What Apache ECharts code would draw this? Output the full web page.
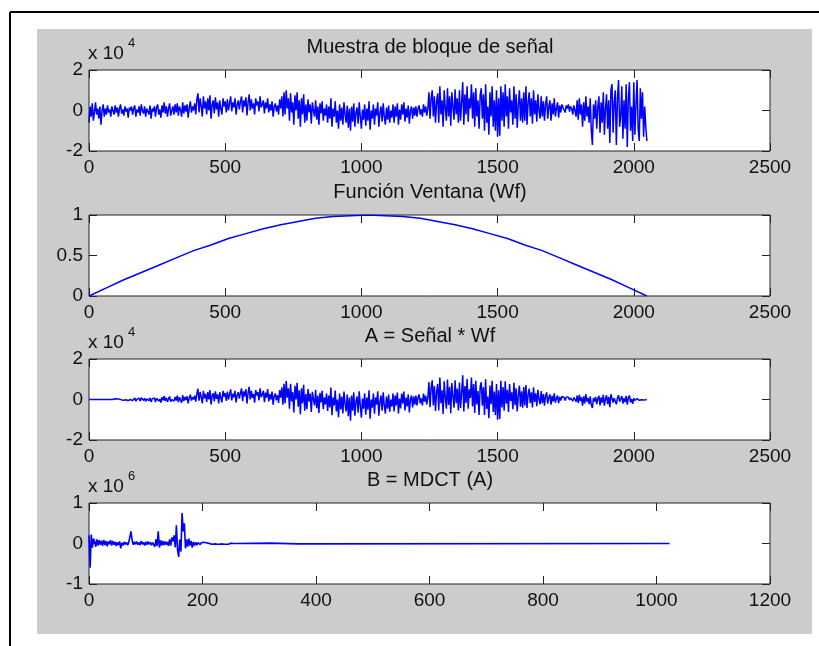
<!DOCTYPE html>
<html>
<head>
<meta charset="utf-8">
<script src="https://cdn.jsdelivr.net/npm/echarts@6/dist/echarts.min.js"></script>
<style>
html, body { margin: 0; padding: 0; background: #fff; }
#chart { width: 819px; height: 646px; }
</style>
</head>
<body>
<div id="chart"></div>
<script>
// panel titles
var titles = ['Muestra de bloque de señal', 'Función Ventana (Wf)', 'A = Señal * Wf', 'B = MDCT (A)'];

// signal block, x 10^4, one value every 4 samples (0..2048)
var signalStep = 4;
var signalBlock = [
  -0.6, 0.2, -0.3, 0.35, -0.5, -0.1, 0.4, -0.2, 0.1, -0.4, 0.2, -0.7, 0.0, 0.3, -0.3, 0.1, -0.2, 0.25, -0.1, 0.05,
  -0.3, 0.2, 0.0, -0.2, 0.25, -0.1, 0.15, -0.3, 0.1, 0.3, -0.15, 0.05, -0.25, 0.2, -0.05, 0.1, -0.35, 0.15, 0.0, 0.2,
  -0.2, 0.1, 0.25, -0.3, 0.05, -0.1, 0.2, -0.25, 0.3, 0.0, -0.15, 0.2, -0.3, 0.1, 0.05, -0.2, 0.25, -0.4, 0.1, -0.05,
  0.2, -0.3, 0.15, 0.3, -0.2, 0.05, -0.35, 0.25, -0.1, 0.4, -0.15, 0.2, -0.3, 0.1, 0.35, -0.25, 0.0, 0.2, -0.2, 0.3,
  -0.1, 0.35, -0.25, 0.2, 0.05, -0.3, 0.4, -0.15, 0.25, -0.05, 0.3, -0.35, 0.15, 0.45, -0.1, 0.2, 0.0, 0.35, -0.2, 0.55,
  0.85, -0.1, 0.6, 0.2, -0.3, 0.7, 0.1, 0.45, -0.2, 0.6, 0.0, 0.75, -0.4, 0.3, 0.5, -0.15, 0.65, 0.05, 0.4, -0.3,
  0.5, 0.1, -0.2, 0.6, 0.2, 0.45, -0.1, 0.55, 0.0, 0.35, 0.7, -0.05, 0.4, 0.15, 0.6, -0.2, 0.3, 0.5, 0.05, 0.45,
  0.7, -0.1, 0.5, 0.2, 0.65, -0.25, 0.4, 0.8, 0.0, 0.55, 0.1, 0.35, -0.2, 0.6, 0.25, 0.45, -0.05, 0.7, 0.15, 0.3,
  0.5, -0.15, 0.4, 0.1, 0.6, -0.1, 0.3, 0.0, 0.45, -0.3, 0.2, 0.35, -0.05, 0.25, -0.2, 0.55, 0.1, 0.7, -0.3, 0.9,
  -0.2, 1.0, 0.1, 0.6, -0.5, 0.85, -0.1, 0.4, -0.7, 0.75, 0.0, 0.9, -0.4, 0.5, -0.8, 0.6, -0.2, 0.8, -0.6, 0.3,
  -0.5, 0.55, -0.1, 0.3, -0.65, 0.4, 0.0, -0.3, 0.5, -0.45, 0.2, -0.7, 0.35, -0.15, 0.45, -0.5, 0.1, -0.25, 0.3, -0.6,
  0.2, -0.4, 0.6, -0.8, 0.1, -0.3, 0.45, -0.6, 0.0, -0.9, 0.3, -0.5, 0.15, -0.7, 0.4, -0.2, -0.6, 0.25, -0.85, 0.1,
  -1.0, 0.2, -0.55, 0.35, -0.8, -0.1, 0.15, -0.65, 0.4, -0.3, -0.9, 0.05, -0.45, 0.3, -0.75, 0.1, -0.5, 0.45, -0.95, 0.0,
  -0.4, 0.3, -0.7, 0.1, -0.25, 0.4, -0.8, -0.1, 0.2, -0.55, 0.35, -0.3, -0.7, 0.15, -0.45, 0.25, -0.6, 0.0, -0.35, 0.3,
  -0.6, 0.2, -0.3, 0.35, -0.7, 0.05, -0.45, 0.3, -0.2, 0.4, -0.55, 0.1, -0.35, 0.25, -0.65, 0.0, 0.2, -0.4, 0.15, -0.25,
  0.2, -0.3, 0.1, 0.25, -0.2, 0.05, -0.3, 0.3, -0.1, 0.2, -0.25, 0.1, 0.9, -0.4, 0.6, 1.0, -0.3, 0.7, -0.6, 0.4,
  0.85, -0.6, 1.2, -0.2, 0.5, -0.8, 1.0, 0.1, -0.5, 1.1, -0.3, 0.7, -0.75, 0.9, 0.2, -0.45, 1.05, -0.2, 0.6, -0.6,
  1.0, -0.5, 0.4, 1.4, -0.7, 0.8, -0.2, 1.2, -0.55, 0.6, 0.1, 1.3, -0.4, 0.9, -0.8, 1.1, -0.3, 0.5, -0.9, 0.75,
  1.1, -0.4, 0.8, -1.0, 1.3, -0.6, 0.2, -1.2, 0.9, -0.3, 1.2, -0.8, 0.5, -1.0, 1.0, -1.3, 0.6, -1.25, 1.2, -0.5,
  0.9, -0.8, 1.3, -0.3, 0.7, -0.9, 1.1, -0.1, 0.5, -0.7, 1.2, -0.4, 0.8, -0.85, 0.3, 1.0, -0.5, 0.6, -0.6, 0.9,
  -0.5, 1.2, -0.7, 0.4, 0.9, -0.3, 0.6, -0.65, 1.0, -0.2, 0.5, -0.55, 0.8, 0.0, -0.4, 0.7, -0.3, 0.45, -0.5, 0.3,
  0.7, -0.4, 0.2, 0.5, -0.5, 0.35, -0.2, 0.6, -0.3, 0.1, 0.4, -0.35, 0.25, -0.1, 0.3, 0.15, 0.2, -0.1, 0.25, 0.1,
  0.3, -0.05, 0.2, 0.1, -0.2, 0.25, 0.0, -0.3, 0.5, -0.45, 0.6, -0.2, 0.3, -0.8, 0.4, -0.5, 0.7, -0.3, 0.2, -0.6,
  0.6, -1.0, -1.7, 0.3, -0.4, 0.5, -0.9, 0.2, 0.7, -1.1, 0.4, -0.6, 0.9, -1.2, 0.1, 0.8, -0.9, 0.5, -1.6, 1.0,
  1.3, -1.1, 0.4, 1.0, -1.7, 0.6, 1.5, -0.8, -0.3, 1.2, -1.4, 0.5, -0.9, 1.3, -1.8, 0.6, 1.4, -1.0, 0.2, -1.5,
  1.4, -1.2, 0.3, 1.5, -0.9, -1.5, 1.1, -0.4, 0.9, -1.3, 0.2, -0.8, -1.5
];

// window Wf, one value every 64 samples (0..2048)
var windowStep = 64;
var windowWf = [
  0.00, 0.10, 0.20, 0.29, 0.38, 0.47, 0.56, 0.63, 0.71, 0.77, 0.83, 0.88, 0.92, 0.96, 0.98, 0.99, 1.00,
  0.99, 0.98, 0.96, 0.92, 0.88, 0.83, 0.77, 0.71, 0.63, 0.56, 0.47, 0.38, 0.29, 0.20, 0.10, 0.00
];

// A = signal * Wf, x 10^4, every 4 samples
var signalA = [
  0, 0, 0, 0, 0, 0, 0, 0, 0, 0, 0, 0, 0, 0, 0, 0, 0, 0, 0, 0,
  0, 0, 0, -0.03, 0.04, -0.02, 0.02, -0.05, 0.02, 0.05, -0.02, 0.01, -0.04, 0.03, -0.01, 0.02, -0.06, 0.02, 0, 0.03,
  -0.06, 0.03, 0.08, -0.09, 0.02, -0.03, 0.06, -0.08, 0.09, 0, -0.05, 0.06, -0.09, 0.03, 0.02, -0.06, 0.08, -0.12, 0.03, -0.02,
  0.08, -0.13, 0.06, 0.13, -0.08, 0.02, -0.15, 0.11, -0.04, 0.17, -0.06, 0.08, -0.13, 0.04, 0.15, -0.11, 0, 0.08, -0.08, 0.13,
  -0.05, 0.19, -0.13, 0.11, 0.03, -0.16, 0.21, -0.08, 0.13, -0.03, 0.16, -0.19, 0.08, 0.24, -0.05, 0.11, 0, 0.19, -0.11, 0.29,
  0.53, -0.06, 0.37, 0.12, -0.19, 0.43, 0.06, 0.28, -0.12, 0.37, 0, 0.47, -0.25, 0.19, 0.31, -0.09, 0.4, 0.03, 0.25, -0.19,
  0.36, 0.07, -0.14, 0.43, 0.14, 0.32, -0.07, 0.39, 0, 0.25, 0.5, -0.04, 0.28, 0.11, 0.43, -0.14, 0.21, 0.36, 0.04, 0.32,
  0.55, -0.08, 0.4, 0.16, 0.51, -0.2, 0.32, 0.63, 0, 0.43, 0.08, 0.28, -0.16, 0.47, 0.2, 0.36, -0.04, 0.55, 0.12, 0.24,
  0.43, -0.13, 0.34, 0.09, 0.52, -0.09, 0.26, 0, 0.39, -0.26, 0.17, 0.3, -0.04, 0.22, -0.17, 0.47, 0.09, 0.6, -0.26, 0.77,
  -0.18, 0.91, 0.09, 0.55, -0.46, 0.77, -0.09, 0.36, -0.64, 0.68, 0, 0.82, -0.36, 0.46, -0.73, 0.55, -0.18, 0.73, -0.55, 0.27,
  -0.48, 0.52, -0.1, 0.29, -0.62, 0.38, 0, -0.29, 0.48, -0.43, 0.19, -0.67, 0.33, -0.14, 0.43, -0.48, 0.1, -0.24, 0.29, -0.57,
  0.2, -0.39, 0.59, -0.78, 0.1, -0.29, 0.44, -0.59, 0, -0.88, 0.29, -0.49, 0.15, -0.69, 0.39, -0.2, -0.59, 0.25, -0.83, 0.1,
  -1.05, 0.2, -0.55, 0.35, -0.8, -0.1, 0.15, -0.65, 0.4, -0.3, -0.9, 0.05, -0.45, 0.3, -0.75, 0.1, -0.5, 0.45, -0.95, 0,
  -0.4, 0.3, -0.7, 0.1, -0.25, 0.4, -0.8, -0.1, 0.2, -0.55, 0.35, -0.3, -0.7, 0.15, -0.45, 0.25, -0.6, 0, -0.35, 0.3,
  -0.59, 0.2, -0.29, 0.34, -0.69, 0.05, -0.44, 0.29, -0.2, 0.39, -0.54, 0.1, -0.34, 0.25, -0.64, 0, 0.2, -0.39, 0.15, -0.25,
  0.19, -0.29, 0.1, 0.24, -0.19, 0.05, -0.29, 0.29, -0.1, 0.19, -0.24, 0.1, 0.86, -0.38, 0.57, 0.95, -0.29, 0.67, -0.57, 0.38,
  0.77, -0.54, 1.08, -0.18, 0.45, -0.72, 0.9, 0.09, -0.45, 0.99, -0.27, 0.63, -0.68, 0.81, 0.18, -0.41, 0.95, -0.18, 0.54, -0.54,
  0.84, -0.42, 0.34, 1.2, -0.59, 0.67, -0.17, 1.01, -0.46, 0.5, 0.08, 1.09, -0.34, 0.76, -0.67, 0.92, -0.25, 0.42, -0.76, 0.63,
  0.85, -0.31, 0.62, -0.77, 1.0, -0.46, 0.15, -0.92, 0.69, -0.23, 0.92, -0.62, 0.39, -0.77, 0.77, -1.0, 0.46, -0.96, 0.92, -0.39,
  0.62, -0.55, 0.9, -0.21, 0.48, -0.62, 0.76, -0.07, 0.35, -0.48, 0.83, -0.28, 0.55, -0.59, 0.21, 0.69, -0.35, 0.41, -0.41, 0.62,
  -0.3, 0.72, -0.42, 0.24, 0.54, -0.18, 0.36, -0.39, 0.6, -0.12, 0.3, -0.33, 0.48, 0, -0.24, 0.42, -0.18, 0.27, -0.3, 0.18,
  0.35, -0.2, 0.1, 0.25, -0.25, 0.18, -0.1, 0.3, -0.15, 0.05, 0.2, -0.18, 0.13, -0.05, 0.15, 0.08, 0.1, -0.05, 0.13, 0.05,
  0.11, -0.02, 0.08, 0.04, -0.08, 0.1, 0, -0.11, 0.19, -0.17, 0.23, -0.08, 0.11, -0.3, 0.15, -0.19, 0.27, -0.11, 0.08, -0.23,
  0.16, -0.26, -0.42, 0.08, -0.1, 0.13, -0.23, 0.05, 0.18, -0.29, 0.1, -0.16, 0.23, -0.31, 0.03, 0.21, -0.23, 0.13, -0.38, 0.26,
  0.18, -0.15, 0.06, 0.14, -0.24, 0.08, 0.21, -0.11, -0.04, 0.17, -0.2, 0.07, -0.13, 0.18, -0.25, 0.08, 0.2, -0.14, 0.03, -0.21,
  0.06, -0.05, 0.01, 0.05, -0.03, -0.04, 0.03, -0.01, 0.02, -0.02, 0, -0.01, 0
];

// B = MDCT(A), x 10^6, every 2 bins for the first 260 bins
var mdctStep = 2;
var mdctHead = [
  0.2, -0.6, 0.22, -0.1, 0.12, 0.05, -0.08, 0.1, -0.05, 0.08,
  -0.03, 0.07, -0.06, 0.09, -0.04, 0.06, -0.07, 0.05, -0.02, 0.08,
  -0.05, 0.06, -0.03, 0.04, -0.06, 0.03, -0.04, 0.05, -0.12, 0.02,
  -0.05, 0.04, -0.02, 0.03, -0.04, 0.02, 0.05, 0.3, 0.08, -0.03,
  0.04, -0.02, 0.05, -0.03, 0.02, -0.04, 0.06, -0.02, 0.03, -0.05,
  0.04, -0.03, 0.05, -0.02, 0.03, -0.04, 0.02, 0.05, -0.08, 0.1,
  -0.06, 0.3, -0.1, 0.08, -0.05, 0.06, -0.04, 0.05, -0.03, 0.04,
  -0.06, 0.1, -0.05, 0.15, 0.05, 0.2, -0.1, 0.45, -0.15, -0.33,
  0.1, -0.2, 0.75, 0.3, 0.5, -0.12, 0.1, -0.08, 0.12, -0.05,
  0.06, -0.1, 0.04, -0.05, 0.03, -0.04, 0.02, 0.05, -0.03, 0.02,
  -0.02, 0.03, -0.01, 0.02, -0.02, 0.01, 0.02, -0.01, 0.03, -0.02,
  0.02, -0.01, 0.03, -0.02, 0.01, -0.02, 0.02, -0.01, 0.01, -0.02,
  -0.03, -0.02, -0.03, -0.02, 0.0, 0.01, -0.01, 0.0, 0.02, 0.0
];
var mdctTail = [[320, 0.01], [322, 0], [368, -0.01], [370, 0], [1023, 0]];

function toPairs(vals, step) {
  return vals.map(function (v, i) { return [i * step, v]; });
}

var tops = [70, 215, 359, 503];
var xMax = [2500, 2500, 2500, 1200];
var xInt = [500, 500, 500, 200];
var yMin = [-2, 0, -2, -1];
var yMax = [2, 1, 2, 1];
var yInt = [2, 0.5, 2, 1];
var lineW = [1.5, 1.5, 1.5, 1.6];
var exponents = [[0, '4'], [2, '4'], [3, '6']];
var seriesData = [
  toPairs(signalBlock, signalStep),
  toPairs(windowWf, windowStep),
  toPairs(signalA, signalStep),
  toPairs(mdctHead, mdctStep).concat(mdctTail)
];

var font = 'Liberation Sans, Arial, sans-serif';
var plain = function (v) { return String(v); };
var grids = [], xAxes = [], yAxes = [], series = [], texts = [];

for (var i = 0; i < 4; i++) {
  grids.push({ left: 89, top: tops[i], width: 681, height: 81, show: true,
    backgroundColor: '#fff', borderColor: '#222', borderWidth: 1 });
  var tick = { show: true, inside: true, length: 8, lineStyle: { color: '#222' } };
  var line = { show: false, onZero: false };
  xAxes.push({ type: 'value', gridIndex: i, position: 'bottom', min: 0, max: xMax[i], interval: xInt[i],
    axisLine: line, axisTick: tick, splitLine: { show: false },
    axisLabel: { color: '#111', fontSize: 19, fontFamily: font, margin: 7, formatter: plain } });
  xAxes.push({ type: 'value', gridIndex: i, position: 'top', min: 0, max: xMax[i], interval: xInt[i],
    axisLine: line, axisTick: tick, splitLine: { show: false }, axisLabel: { show: false } });
  yAxes.push({ type: 'value', gridIndex: i, position: 'left', min: yMin[i], max: yMax[i], interval: yInt[i],
    axisLine: line, axisTick: tick, splitLine: { show: false },
    axisLabel: { color: '#111', fontSize: 19, fontFamily: font, margin: 6, formatter: plain } });
  yAxes.push({ type: 'value', gridIndex: i, position: 'right', min: yMin[i], max: yMax[i], interval: yInt[i],
    axisLine: line, axisTick: tick, splitLine: { show: false }, axisLabel: { show: false } });
  series.push({ type: 'line', xAxisIndex: i * 2, yAxisIndex: i * 2, data: seriesData[i],
    showSymbol: false, symbol: 'none', sampling: null, lineStyle: { color: '#0000ff', width: lineW[i] },
    itemStyle: { color: '#0000ff' }, z: 3 });
  texts.push({ type: 'text', x: 430, y: tops[i] - 23, z: 10,
    style: { text: titles[i], fill: '#111', font: '20px ' + font, textAlign: 'center', textVerticalAlign: 'middle' } });
}

// exponent labels (x 10^n)
exponents.forEach(function (e) {
  var t = tops[e[0]];
  texts.push({ type: 'text', x: 88, y: t - 16, z: 10,
    style: { text: 'x 10', fill: '#111', font: '19px ' + font, textAlign: 'left', textVerticalAlign: 'middle' } });
  texts.push({ type: 'text', x: 128, y: t - 27, z: 10,
    style: { text: e[1], fill: '#111', font: '13px ' + font, textAlign: 'left', textVerticalAlign: 'middle' } });
});

var chart = echarts.init(document.getElementById('chart'), null, { renderer: 'canvas' });
chart.setOption({
  animation: false,
  backgroundColor: '#fff',
  grid: grids,
  xAxis: xAxes,
  yAxis: yAxes,
  series: series,
  graphic: [
    { type: 'rect', z: -10, shape: { x: 37, y: 29, width: 775, height: 605 }, style: { fill: '#cccccc' } },
    { type: 'line', z: 10, shape: { x1: 10, y1: 12, x2: 819, y2: 12 }, style: { stroke: '#000', lineWidth: 2 } },
    { type: 'line', z: 10, shape: { x1: 10, y1: 12, x2: 10, y2: 646 }, style: { stroke: '#000', lineWidth: 2 } }
  ].concat(texts)
});
</script>
</body>
</html>
